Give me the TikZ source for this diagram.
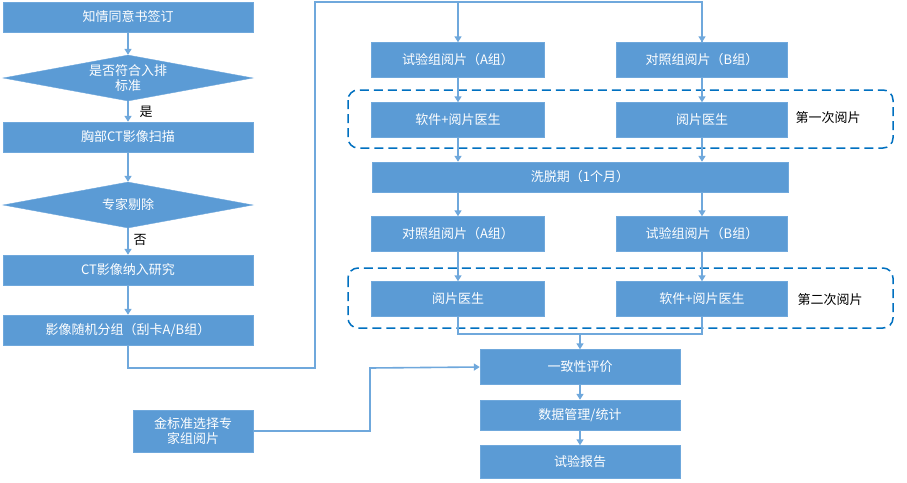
\documentclass[tikz,border=0pt]{standalone}
\usepackage{fontspec}
\setmainfont{Noto Sans CJK SC}
\usetikzlibrary{shapes.geometric,arrows.meta}
\definecolor{boxblue}{HTML}{5B9BD5}
\definecolor{edgeblue}{HTML}{6FA8DC}
\definecolor{dashblue}{HTML}{0070C0}
\tikzset{
  stepbox/.style={draw=edgeblue, fill=boxblue, text=white, inner sep=0pt, font=\fontsize{13}{15}\selectfont},
  flow/.style={draw=edgeblue, line width=1.6pt, -{Triangle[length=6pt,width=7pt]}},
  link/.style={draw=edgeblue, line width=1.6pt},
  roundgroup/.style={draw=dashblue, line width=1.5pt, dash pattern=on 9pt off 5pt, rounded corners=10pt},
}
\begin{document}
\begin{tikzpicture}[x=1pt,y=-1pt]
  \useasboundingbox (0,0) rectangle (907,482);
  % Left column
  \node[stepbox, minimum width=250pt, minimum height=30pt] (consent) at (128,17) {知情同意书签订};
  \node[stepbox, diamond, aspect=5.5, minimum width=250pt, minimum height=46pt, align=center] (criteria) at (128,78) {是否符合入排\\标准};
  \node[stepbox, minimum width=250pt, minimum height=30pt] (scan) at (128,137) {胸部CT影像扫描};
  \node[stepbox, diamond, aspect=5.5, minimum width=250pt, minimum height=46pt] (expert) at (128,205) {专家剔除};
  \node[stepbox, minimum width=250pt, minimum height=30pt] (include) at (128,270) {CT影像纳入研究};
  \node[stepbox, minimum width=250pt, minimum height=30pt] (random) at (128,330) {影像随机分组（刮卡A/B组）};
  \node[stepbox, minimum width=120pt, minimum height=42pt, align=center] (gold) at (193,431) {金标准选择专\\家组阅片};
  \node[font=\fontsize{13}{15}\selectfont] (yes) at (146,112) {是};
  \node[font=\fontsize{13}{15}\selectfont] (no) at (140,240) {否};
  % Dashed groups
  \draw[roundgroup] (348,90) rectangle (893,148);
  \draw[roundgroup] (348,268) rectangle (893,328);
  \node[font=\fontsize{13}{15}\selectfont] (first) at (828,118) {第一次阅片};
  \node[font=\fontsize{13}{15}\selectfont] (second) at (830,300) {第二次阅片};
  % Right part
  \node[stepbox, minimum width=173pt, minimum height=35pt] (testA) at (458,60) {试验组阅片（A组）};
  \node[stepbox, minimum width=171pt, minimum height=35pt] (ctrlB) at (702,60) {对照组阅片（B组）};
  \node[stepbox, minimum width=173pt, minimum height=35pt] (softA) at (458,120) {软件+阅片医生};
  \node[stepbox, minimum width=171pt, minimum height=35pt] (docB) at (702,120) {阅片医生};
  \node[stepbox, minimum width=416pt, minimum height=30pt] (washout) at (580,177) {洗脱期（1个月）};
  \node[stepbox, minimum width=173pt, minimum height=35pt] (ctrlA) at (458,234) {对照组阅片（A组）};
  \node[stepbox, minimum width=171pt, minimum height=35pt] (testB) at (702,234) {试验组阅片（B组）};
  \node[stepbox, minimum width=173pt, minimum height=35pt] (docA) at (458,299) {阅片医生};
  \node[stepbox, minimum width=171pt, minimum height=35pt] (softB) at (702,299) {软件+阅片医生};
  \node[stepbox, minimum width=200pt, minimum height=35pt] (agree) at (580,367) {一致性评价};
  \node[stepbox, minimum width=200pt, minimum height=30pt] (data) at (580,415) {数据管理/统计};
  \node[stepbox, minimum width=200pt, minimum height=33pt] (report) at (580,462) {试验报告};
  % Connectors
  \draw[flow] (consent) -- (criteria);
  \draw[flow] (criteria) -- (scan);
  \draw[flow] (scan) -- (expert);
  \draw[flow] (expert) -- (include);
  \draw[flow] (include) -- (random);
  \draw[link] (random.south) -- ++(0,23) -| (315,2) -| (ctrlB.north);
  \draw[flow] (458,2) -- (testA.north);
  \draw[flow] (ctrlB.north |- 0,2) -- (ctrlB.north);
  \draw[flow] (testA) -- (softA);
  \draw[flow] (ctrlB) -- (docB);
  \draw[flow] (softA) -- (softA |- washout.north);
  \draw[flow] (docB) -- (docB |- washout.north);
  \draw[flow] (softA |- washout.south) -- (ctrlA);
  \draw[flow] (docB |- washout.south) -- (testB);
  \draw[flow] (ctrlA) -- (docA);
  \draw[flow] (testB) -- (softB);
  \draw[link] (docA.south) |- (580,334) -| (softB.south);
  \draw[flow] (580,334) -- (agree.north);
  \draw[flow] (agree) -- (data);
  \draw[flow] (data) -- (report);
  \draw[flow] (gold.east) -| (370,368) -- (agree.west);
\end{tikzpicture}
\end{document}
